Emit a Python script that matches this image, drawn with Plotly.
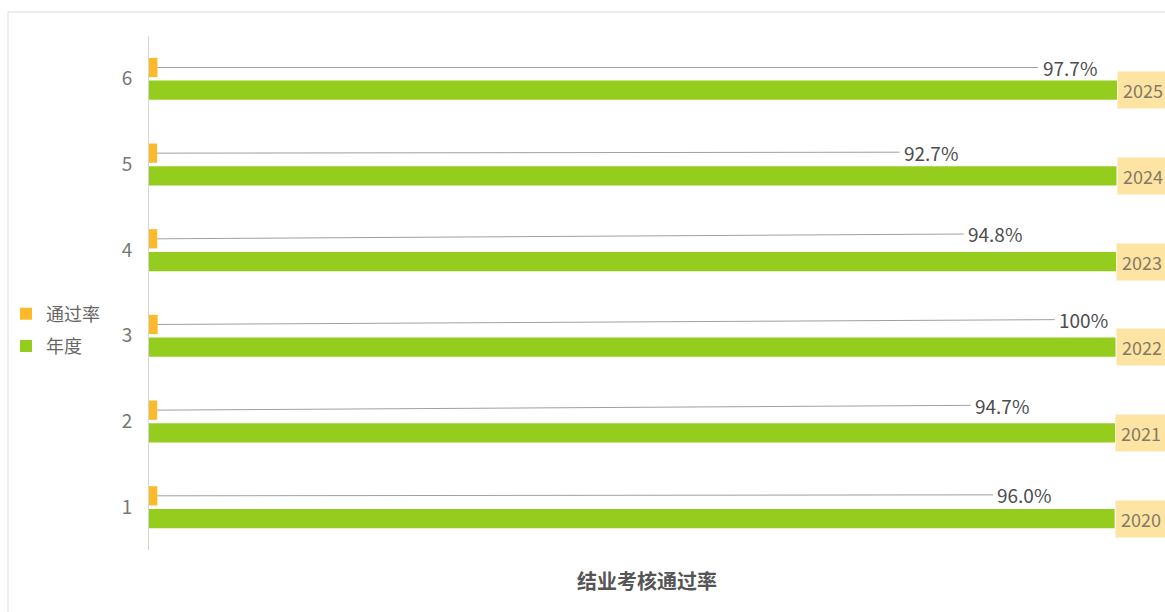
import plotly.graph_objects as go

# ---- data ----
categories = [1, 2, 3, 4, 5, 6]
years = [2020, 2021, 2022, 2023, 2024, 2025]
pass_rate = [96.0, 94.7, 100.0, 94.8, 92.7, 97.7]
pass_rate_labels = ["96.0%", "94.7%", "100%", "94.8%", "92.7%", "97.7%"]
series_names = ["通过率", "年度"]
chart_title = "结业考核通过率"

# ---- style ----
FONT = "Noto Sans CJK SC, Microsoft YaHei, sans-serif"
ORANGE = "#fcba2a"
GREEN = "#94cd1e"
BAR_W = 0.225
ORANGE_OFF = 0.02
GREEN_OFF = -0.245
# pixel offsets of the percentage labels (leader-line lengths), per category
label_ax = [867, 845, 926, 838, 774, 912]
label_ay = [-1, -5, -5, -5, -1, 0]

W, H = 1165, 612
ML, MR, MT, MB = 149, 0, 36, 62
plot_w = W - ML - MR
plot_h = H - MT - MB

fig = go.Figure()

fig.add_trace(go.Bar(
    y=categories, x=pass_rate, orientation="h", name=series_names[0],
    marker=dict(color=ORANGE, line=dict(width=0)),
    width=BAR_W, offset=ORANGE_OFF, xaxis="x2", legendgroup="a",
    hoverinfo="x+y",
))
fig.add_trace(go.Bar(
    y=categories, x=years, orientation="h", name=series_names[1],
    marker=dict(color=GREEN, line=dict(width=0)),
    width=BAR_W, offset=GREEN_OFF, xaxis="x", legendgroup="b",
    hoverinfo="x+y",
))

annotations = []
for c, v, lab, ax, ay in zip(categories, pass_rate, pass_rate_labels, label_ax, label_ay):
    annotations.append(dict(
        x=v, y=c + ORANGE_OFF + BAR_W / 2, xref="x2", yref="y",
        text=lab, showarrow=True, arrowhead=0, arrowwidth=1, arrowcolor="#a0a0a0",
        ax=ax, ay=ay, font=dict(family=FONT, size=19, color="#4d4d4d"),
        borderpad=4, standoff=0, startstandoff=0,
    ))
for c, yr in zip(categories, years):
    annotations.append(dict(
        x=yr, y=c + GREEN_OFF + BAR_W / 2, xref="x", yref="y",
        text=str(yr), showarrow=False, xanchor="left", yanchor="middle",
        bgcolor="#fde4a3", borderpad=5,
        font=dict(family=FONT, size=18, color="#857a66"),
    ))
annotations.append(dict(
    x=(647 - ML) / plot_w, y=-(580 - (H - MB)) / plot_h, xref="paper", yref="paper",
    text="<b>" + chart_title + "</b>", showarrow=False,
    xanchor="center", yanchor="middle",
    font=dict(family=FONT, size=20, color="#555555"),
))

fig.update_layout(
    width=W, height=H,
    margin=dict(l=ML, r=MR, t=MT, b=MB, pad=0),
    paper_bgcolor="white", plot_bgcolor="white",
    barmode="overlay",
    font=dict(family=FONT, size=16, color="#666666"),
    showlegend=True,
    legend=dict(
        x=(6 - ML) / plot_w, y=((H - MB) - 330) / plot_h,
        xanchor="left", yanchor="middle",
        font=dict(family=FONT, size=18, color="#666666"),
        tracegroupgap=6, bgcolor="rgba(0,0,0,0)",
    ),
    xaxis=dict(range=[0, 2025 * plot_w / (1117 - ML)], visible=False, fixedrange=True),
    xaxis2=dict(range=[0, 97.7 * plot_w / 8.5], overlaying="x", side="top",
                visible=False, fixedrange=True),
    yaxis=dict(
        range=[0.5, 6.5], tickmode="array", tickvals=categories,
        ticktext=[str(c) for c in categories],
        showgrid=False, zeroline=False, showline=True, linecolor="#d6d6d6", linewidth=1,
        ticks="", ticklabelstandoff=12, fixedrange=True,
        tickfont=dict(family=FONT, size=19, color="#777777"),
    ),
    annotations=annotations,
    shapes=[dict(
        type="rect", xref="paper", yref="paper",
        x0=(8 - ML) / plot_w, x1=1.02, y0=-0.3, y1=1 + (MT - 12) / plot_h,
        line=dict(color="#dcdcdc", width=1), fillcolor="rgba(0,0,0,0)", layer="below",
    )],
)

fig.write_html(
    "out.html",
    config={"displayModeBar": False},
    post_script="document.body.style.margin='0';document.body.style.overflow='hidden';",
)
